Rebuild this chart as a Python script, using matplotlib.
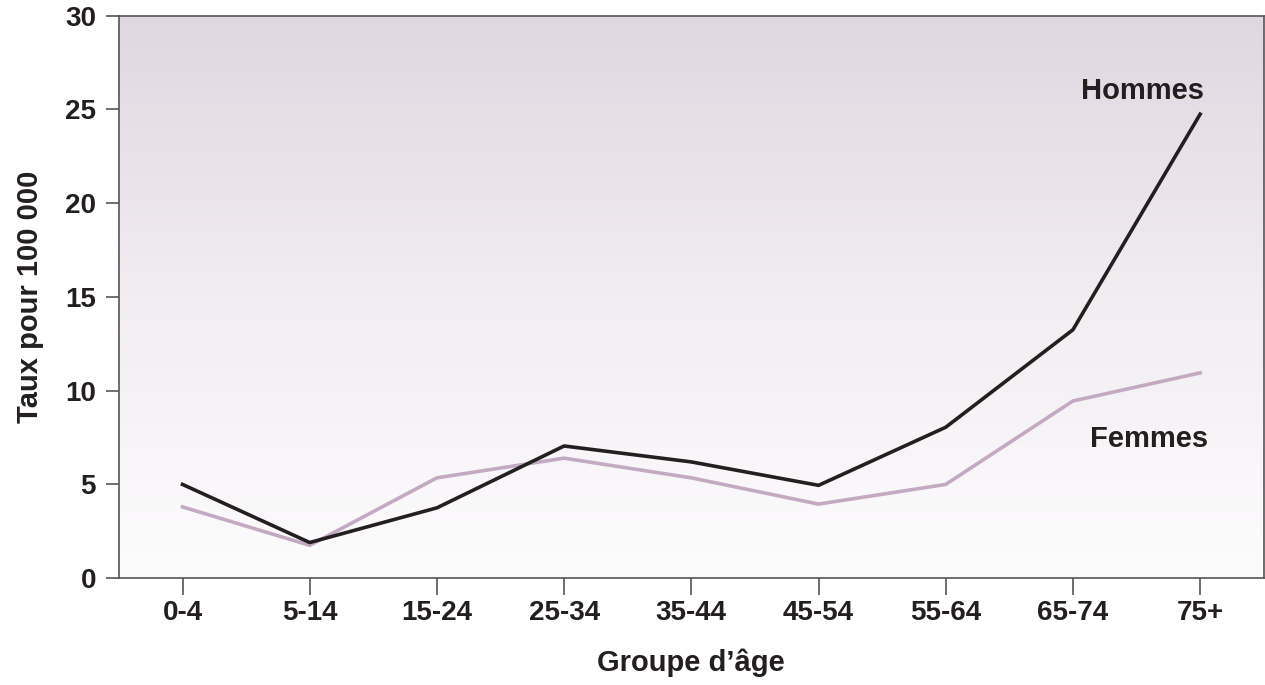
import matplotlib
matplotlib.use("Agg")
import matplotlib.pyplot as plt
import numpy as np
from matplotlib.colors import LinearSegmentedColormap

plt.rcParams["font.family"] = ["Liberation Sans", "DejaVu Sans"]
plt.rcParams["font.weight"] = "bold"

groupes = ["0-4", "5-14", "15-24", "25-34", "35-44", "45-54", "55-64", "65-74", "75+"]
hommes = [5.0, 1.9, 3.75, 7.05, 6.2, 4.95, 8.05, 13.25, 24.75]
femmes = [3.8, 1.75, 5.35, 6.4, 5.35, 3.95, 5.0, 9.45, 10.95]

fig = plt.figure(figsize=(12.65, 6.85), dpi=100)
ax = fig.add_axes([0.094, 0.156, 0.905, 0.821])

x = np.arange(len(groupes))

# fond en dégradé
cmap = LinearSegmentedColormap.from_list("fond", ["#fdfcfd", "#f1edf1", "#e0d7e0"])
grad = np.linspace(0, 1, 256).reshape(-1, 1)
ax.imshow(grad, cmap=cmap, origin="lower", aspect="auto",
          extent=[-0.5, 8.5, 0, 30], zorder=0)

ax.plot(x, hommes, color="#231f20", linewidth=2.6, zorder=3)
ax.plot(x, femmes, color="#c3aac2", linewidth=2.6, zorder=2)

ax.text(7.55, 26.0, "Hommes", fontsize=21, fontweight="bold", color="#231f20",
        ha="center", va="center")
ax.text(7.6, 7.4, "Femmes", fontsize=21, fontweight="bold", color="#231f20",
        ha="center", va="center")

ax.set_xlim(-0.5, 8.5)
ax.set_ylim(0, 30)
ax.set_xticks(x)
ax.set_xticklabels(groupes)
ax.set_yticks([0, 5, 10, 15, 20, 25, 30])

for s in ax.spines.values():
    s.set_color("#555555")
    s.set_linewidth(1.2)

ax.tick_params(axis="both", width=1.2, color="#555555",
               labelsize=20, labelcolor="#231f20")
ax.tick_params(axis="x", length=12, pad=4)
ax.tick_params(axis="y", length=9.5, pad=7)

ax.set_xlabel("Groupe d’âge", fontsize=21, fontweight="bold", color="#231f20", labelpad=16)
ax.set_ylabel("Taux pour 100 000", fontsize=21, fontweight="bold", color="#231f20", labelpad=15)

fig.savefig("out.png", dpi=100)
